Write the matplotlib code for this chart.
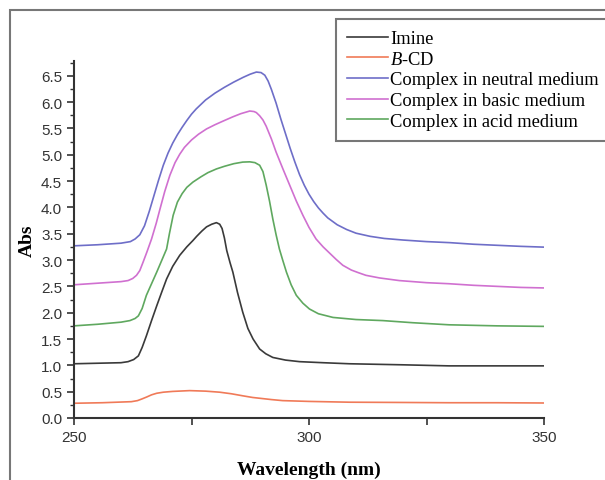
import matplotlib
matplotlib.use('Agg')
import matplotlib.pyplot as plt
from matplotlib.patches import Rectangle
from matplotlib.ticker import MultipleLocator, FormatStrFormatter

plt.rcParams['mathtext.fontset'] = 'custom'
plt.rcParams['mathtext.it'] = 'Liberation Serif:italic'
plt.rcParams['mathtext.rm'] = 'Liberation Serif'

# values (wavelength nm, absorbance)
imine_wl = [250, 255, 260, 261.5, 262.7, 263.7, 264.5, 265.4, 266.5, 267.6, 268.7, 269.7, 271, 272.5,
            274, 275.3, 276.1, 277.2, 278.2, 279.3, 280.3, 281, 281.5, 282, 282.5, 283.2, 283.8,
            284.8, 285.9, 287, 288.1, 289.5, 290.8, 292.3, 295, 298, 303, 308.6, 320, 329.8, 350]
imine_abs = [1.03, 1.04, 1.05, 1.07, 1.11, 1.18, 1.34, 1.56, 1.85, 2.13, 2.40, 2.64, 2.88, 3.09,
             3.25, 3.37, 3.45, 3.55, 3.63, 3.68, 3.71, 3.68, 3.60, 3.42, 3.18, 2.95, 2.77,
             2.38, 2.01, 1.70, 1.50, 1.31, 1.22, 1.15, 1.10, 1.07, 1.05, 1.03, 1.01, 0.99, 0.99]

bcd_wl = [250, 256, 262.2, 263.5, 264.4, 265.5, 266.5, 267.6, 269, 271, 274.6, 278, 281, 283.5,
          286, 288, 290, 292, 294.4, 300, 308.6, 320, 329.8, 340, 350]
bcd_abs = [0.28, 0.29, 0.31, 0.33, 0.36, 0.40, 0.44, 0.47, 0.49, 0.505, 0.52, 0.51, 0.49, 0.46,
           0.42, 0.39, 0.37, 0.35, 0.33, 0.315, 0.30, 0.295, 0.29, 0.29, 0.285]

neutral_wl = [250, 255, 260, 262, 263, 264, 265, 266, 267, 268, 269, 270, 271, 272, 273, 274, 275,
              276, 278, 280, 282, 284, 286, 287.5, 288.8, 289.8, 290.6, 291.3, 292, 293, 294, 295,
              296, 297, 298, 299, 300, 301, 302, 303, 304, 306, 308, 310, 313, 316, 320, 325, 330,
              335, 340, 345, 350]
neutral_abs = [3.27, 3.29, 3.32, 3.35, 3.40, 3.48, 3.65, 3.92, 4.22, 4.52, 4.80, 5.03, 5.22, 5.38,
               5.52, 5.65, 5.77, 5.87, 6.04, 6.17, 6.28, 6.38, 6.47, 6.53, 6.57, 6.56, 6.51, 6.40,
               6.24, 5.98, 5.68, 5.40, 5.12, 4.86, 4.62, 4.42, 4.25, 4.11, 3.99, 3.89, 3.80, 3.67,
               3.58, 3.51, 3.45, 3.41, 3.38, 3.35, 3.33, 3.30, 3.28, 3.26, 3.245]

basic_wl = [250, 255, 260, 261.5, 262.5, 263.3, 264, 264.7, 265.5, 266.5, 267.5, 268.3, 269.3,
            270.4, 271.5, 272.5, 273.5, 275, 276.5, 278.2, 280, 282, 283.8, 285.5, 287.4, 288.3,
            288.8, 289.5, 290.2, 290.9, 292, 293, 294.5, 295.9, 297.3, 298.7, 300, 301.5, 303,
            304.4, 305.8, 307.2, 309, 310.5, 312.1, 315, 319.2, 325, 329.8, 335, 340, 345, 350]
basic_abs = [2.53, 2.56, 2.59, 2.61, 2.65, 2.71, 2.80, 2.96, 3.15, 3.40, 3.70, 3.97, 4.30,
             4.61, 4.85, 5.01, 5.14, 5.28, 5.39, 5.49, 5.57, 5.65, 5.72, 5.78, 5.83, 5.82,
             5.80, 5.74, 5.66, 5.54, 5.30, 5.05, 4.72, 4.42, 4.12, 3.85, 3.62, 3.40, 3.25,
             3.13, 3.01, 2.90, 2.81, 2.76, 2.71, 2.66, 2.61, 2.57, 2.55, 2.52, 2.50, 2.48, 2.47]

acid_wl = [250, 255, 260, 261.9, 263, 263.7, 264.5, 265.4, 266.5, 267.6, 268.7, 269.7, 270.3,
           271.1, 272, 273, 274, 275.3, 277, 278.5, 280.3, 282, 284, 285.9, 287.4, 288.5, 289.5,
           290.2, 290.9, 291.6, 292.3, 293, 293.7, 294.4, 295.2, 296.2, 297.3, 298.7, 300.1, 302,
           305.1, 310, 315.7, 322, 329.8, 340, 350]
acid_abs = [1.75, 1.78, 1.82, 1.85, 1.89, 1.94, 2.08, 2.33, 2.55, 2.77, 3.00, 3.21, 3.50,
            3.85, 4.10, 4.26, 4.38, 4.48, 4.58, 4.66, 4.73, 4.78, 4.83, 4.86, 4.865, 4.85, 4.80,
            4.68, 4.42, 4.12, 3.78, 3.48, 3.21, 3.00, 2.77, 2.53, 2.33, 2.18, 2.07, 1.98,
            1.91, 1.87, 1.85, 1.81, 1.77, 1.75, 1.74]

fig = plt.figure(figsize=(6.05, 4.81), dpi=100)
ax = fig.add_axes([74 / 605, 1 - 419 / 481, 470 / 605, 357 / 481])

lw = 1.2
ax.plot(imine_wl, imine_abs, color='#3a3a3a', lw=lw, label='Imine')
ax.plot(bcd_wl, bcd_abs, color='#f07a58', lw=lw, label=r'$\mathit{B}$-CD')
ax.plot(neutral_wl, neutral_abs, color='#6e6ec8', lw=lw, label='Complex in neutral medium')
ax.plot(basic_wl, basic_abs, color='#d070d0', lw=lw, label='Complex in basic medium')
ax.plot(acid_wl, acid_abs, color='#5fa85f', lw=lw, label='Complex in acid medium')

ax.set_xlim(250, 350)
ax.set_ylim(0, 6.78)
ax.set_xticks([250, 300, 350])
ax.xaxis.set_minor_locator(MultipleLocator(25))
ax.yaxis.set_major_locator(MultipleLocator(0.5))
ax.yaxis.set_minor_locator(MultipleLocator(0.25))
ax.yaxis.set_major_formatter(FormatStrFormatter('%.1f'))

for s in ['top', 'right']:
    ax.spines[s].set_visible(False)
for s in ['left', 'bottom']:
    ax.spines[s].set_color('#333333')
    ax.spines[s].set_linewidth(1.5)

ax.tick_params(which='major', length=5, width=1.2, color='#333333',
               labelsize=11, labelcolor='#333333')
ax.tick_params(which='minor', length=3, width=1.0, color='#333333')
ax.tick_params(axis='x', which='minor', length=5, width=1.2)
for t in ax.get_xticklabels() + ax.get_yticklabels():
    t.set_fontfamily('Liberation Sans')

ax.set_xlabel('Wavelength (nm)', fontfamily='Liberation Serif', fontweight='bold',
              fontsize=14, labelpad=12)
ax.set_ylabel('Abs', fontfamily='Liberation Serif', fontweight='bold', fontsize=14, labelpad=4)

leg = ax.legend(loc='upper left', bbox_to_anchor=(336 / 605, 1 - 20 / 481),
                bbox_transform=fig.transFigure, frameon=True, fancybox=False,
                prop={'family': 'Liberation Serif', 'size': 13.3},
                handlelength=2.2, handletextpad=0.15, labelspacing=0.2,
                borderpad=0.6, borderaxespad=0)
leg.get_frame().set_edgecolor('#555555')
leg.get_frame().set_linewidth(1.5)

fig.add_artist(Rectangle((10 / 605, -0.1), 2, 1.1 - 11 / 481, transform=fig.transFigure,
                         fill=False, ec='#777777', lw=1.5))

fig.savefig('out.png', dpi=100)
